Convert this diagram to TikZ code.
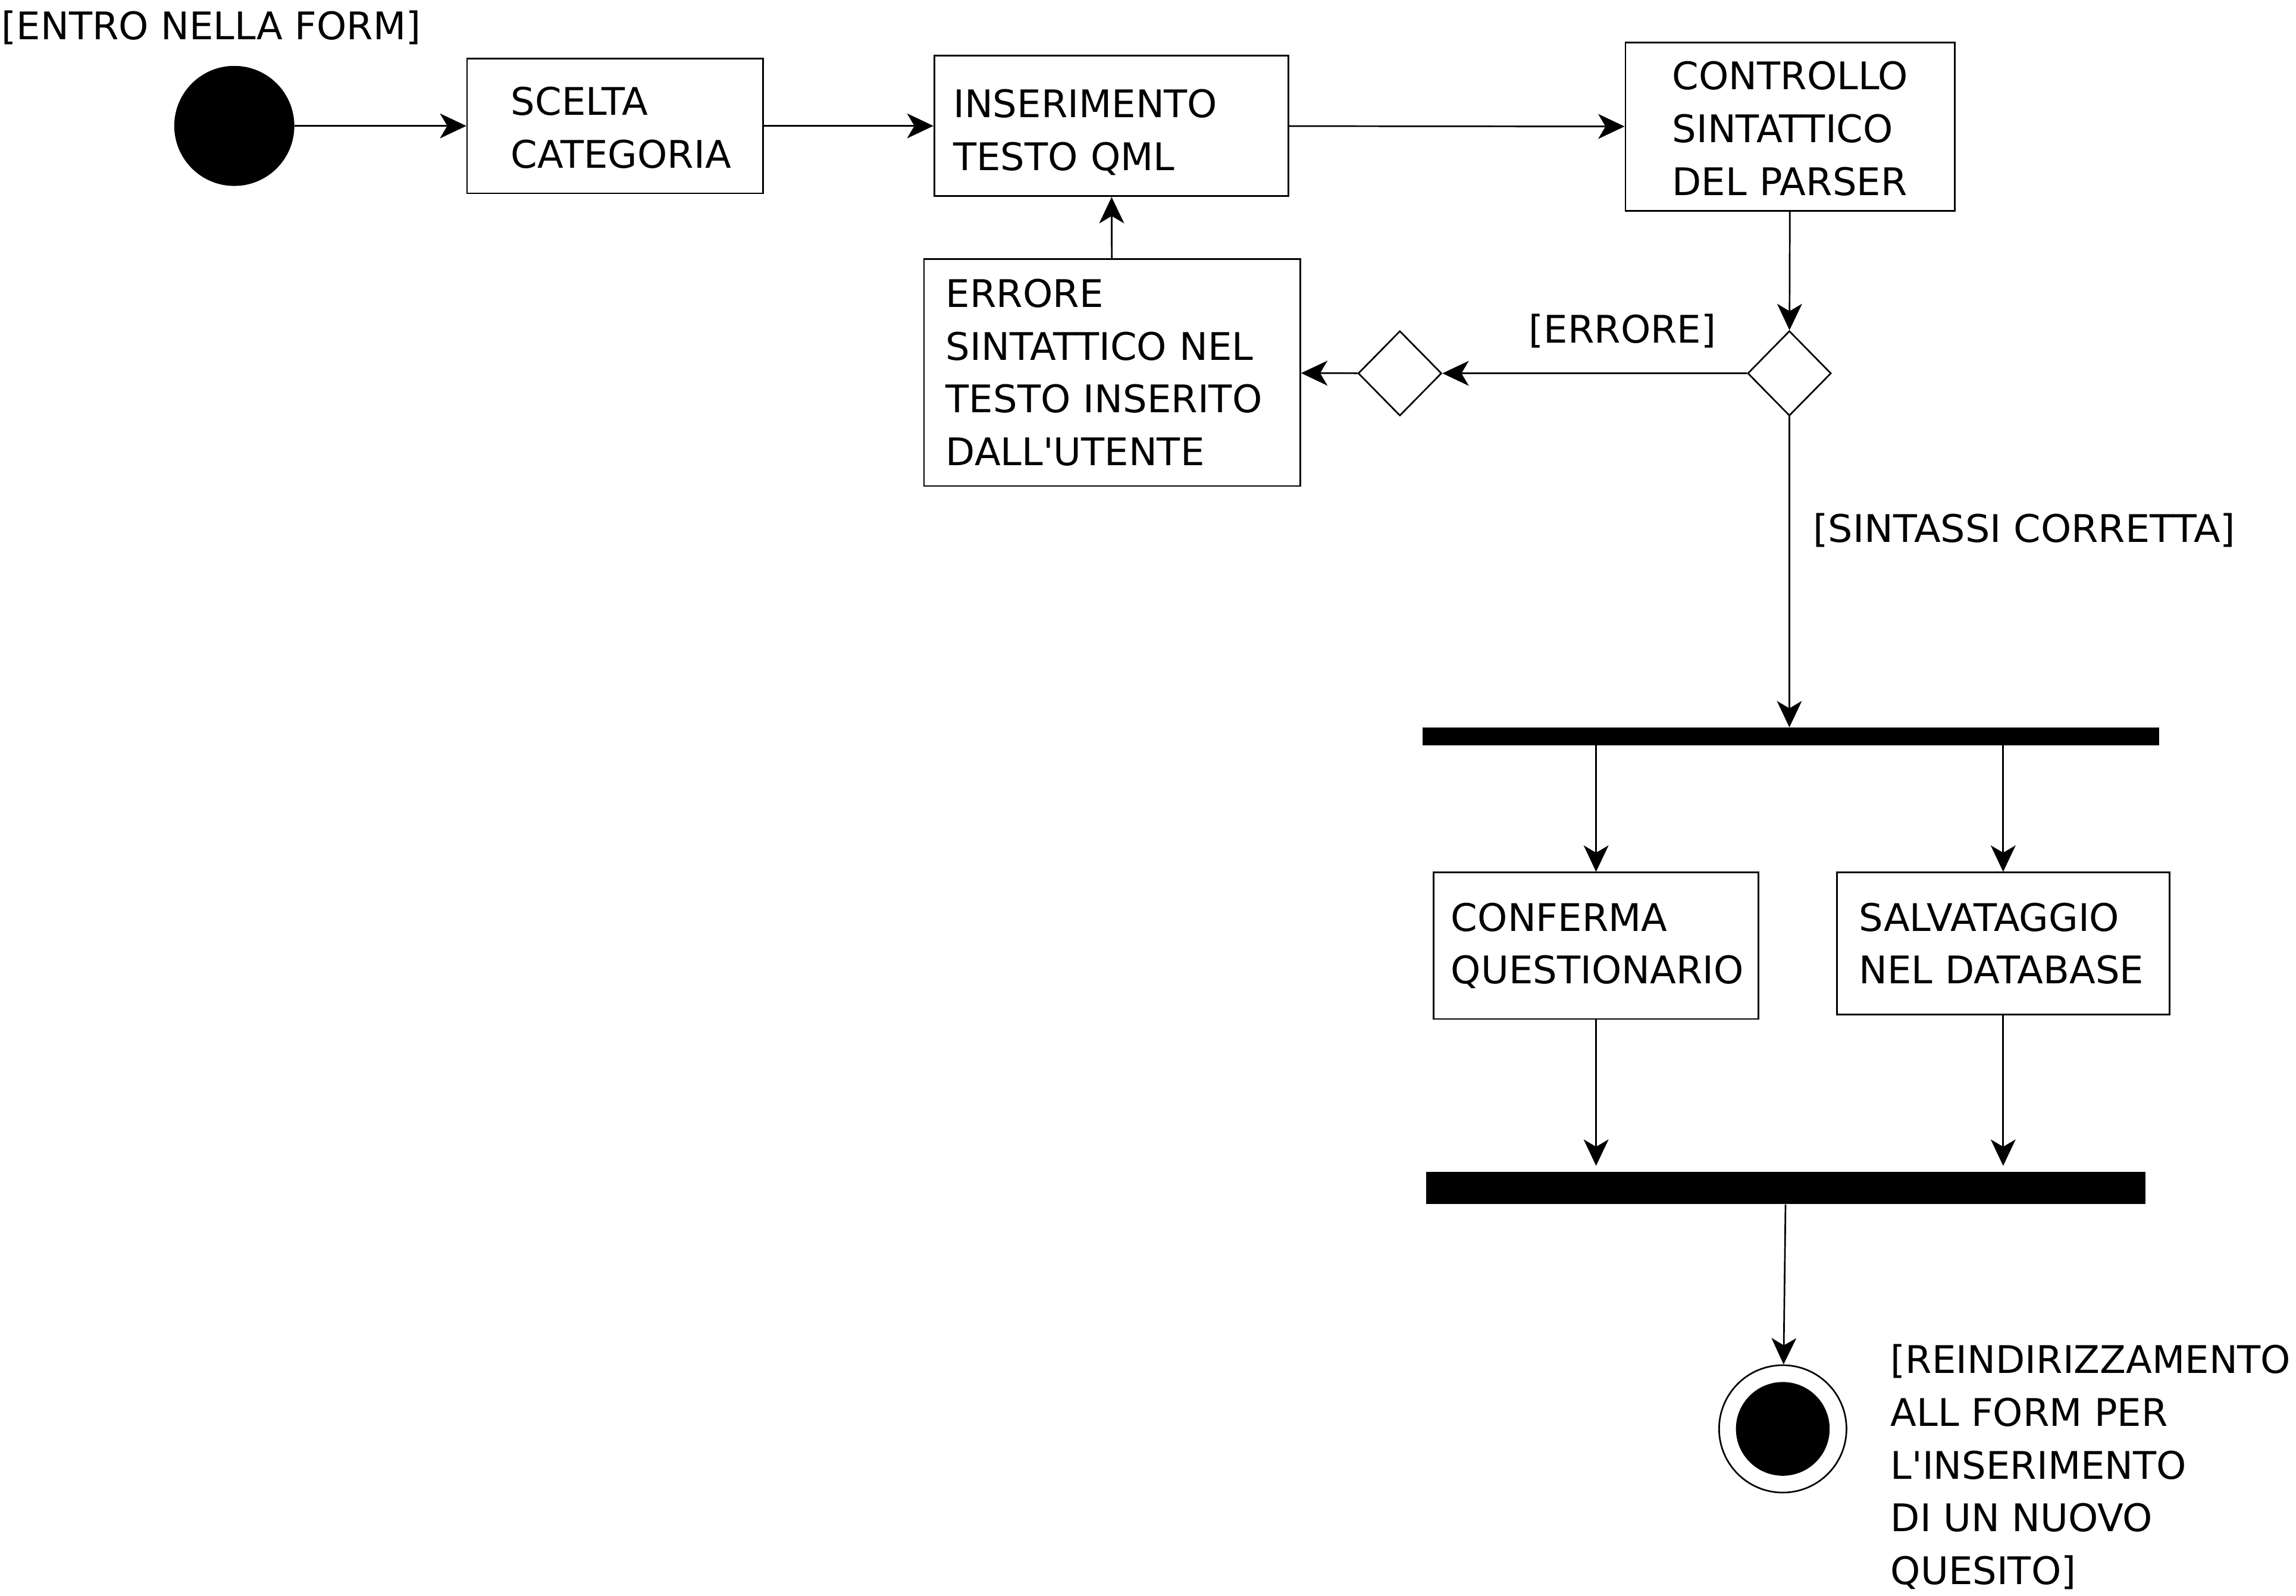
\documentclass[tikz,border=0pt]{standalone}
\usepackage{fontspec}
\setmainfont{DejaVu Sans}
\usetikzlibrary{arrows.meta, shapes.geometric}

\begin{document}
\begin{tikzpicture}[x=1pt, y=-1pt,
    testo/.style={font=\fontsize{26}{36}\selectfont, inner sep=0pt},
    attivita/.style={draw, line width=1.1pt, font=\fontsize{26}{36}\selectfont, align=left, inner ysep=0pt},
    decisione/.style={draw, diamond, line width=1.1pt, minimum width=57pt, minimum height=58pt, inner sep=0pt},
    barra/.style={fill=black, inner sep=0pt},
    freccia/.style={-{Stealth[length=18pt, width=17pt, inset=5pt]}, line width=1.1pt}]
    \useasboundingbox (0,0) rectangle (1568,1090);

    % Start of the activity
    \node[testo, anchor=west] (entro) at (1,19) {[ENTRO NELLA FORM]};
    \node[circle, fill=black, minimum size=82pt, inner sep=0pt] (inizio) at (160,86) {};

    % Upper row of activities
    \node[attivita, text width=142pt, inner xsep=30pt, minimum height=92pt] (scelta) at (420,86) {\rule{0pt}{22pt}SCELTA\\CATEGORIA};
    \node[attivita, text width=216pt, inner xsep=13pt, minimum height=96pt] (inserimento) at (759,86) {\rule{0pt}{28pt}INSERIMENTO\\TESTO~QML};
    \node[attivita, text width=161pt, inner xsep=32pt, minimum height=115pt] (controllo) at (1222.5,86.5) {\rule{0pt}{22pt}CONTROLLO\\SINTATTICO\\DEL~PARSER};

    \draw[freccia] (inizio) -- (scelta);
    \draw[freccia] (scelta) -- (inserimento);
    \draw[freccia] (inserimento) -- (controllo);

    % Syntax check: error branch
    \node[decisione] (verifica) at (1222,255) {};
    \node[decisione] (unione) at (956,255) {};
    \node[attivita, text width=227pt, inner xsep=15pt, minimum height=155pt] (errore) at (759.5,254.5) {ERRORE\\SINTATTICO~NEL\\TESTO~INSERITO\\DALL\textquotesingle UTENTE};
    \node[testo] (errlab) at (1108,226) {[ERRORE]};

    \draw[freccia] (controllo) -- (verifica);
    \draw[freccia] (verifica) -- (unione);
    \draw[freccia] (unione) -- (errore);
    \draw[freccia] (errore) -- (inserimento);

    % Correct syntax: fork and join
    \node[testo, anchor=west, xscale=1.02] (sintlab) at (1238,362) {[SINTASSI CORRETTA]};
    \node[barra, minimum width=503pt, minimum height=12pt] (fork) at (1223,503) {};
    \node[attivita, text width=198pt, inner xsep=12pt, minimum height=100pt] (conferma) at (1090,646) {CONFERMA\\QUESTIONARIO};
    \node[attivita, text width=197pt, inner xsep=15pt, minimum height=97pt] (salvataggio) at (1368,644.5) {SALVATAGGIO\\NEL~DATABASE};
    \node[barra, minimum width=491pt, minimum height=22pt] (join) at (1219.5,811.5) {};

    \draw[freccia] (verifica) -- (fork.north -| verifica.south);
    \draw[freccia] (fork.south -| conferma.north) -- (conferma);
    \draw[freccia] (fork.south -| salvataggio.north) -- (salvataggio);
    \draw[freccia, shorten >=4pt] (conferma) -- (join.north -| conferma.south);
    \draw[freccia, shorten >=4pt] (salvataggio) -- (join.north -| salvataggio.south);

    % End of the activity
    \node[circle, draw, line width=1.1pt, minimum size=87pt, inner sep=0pt] (fine) at (1217.5,976) {};
    \fill (fine.center) circle (32pt);
    \node[testo, anchor=west, align=left] (reindlab) at (1291,1002) {[REINDIRIZZAMENTO\\ALL FORM PER\\L\textquotesingle INSERIMENTO\\DI UN NUOVO\\QUESITO]};

    \draw[freccia] (join) -- (fine);
\end{tikzpicture}
\end{document}
